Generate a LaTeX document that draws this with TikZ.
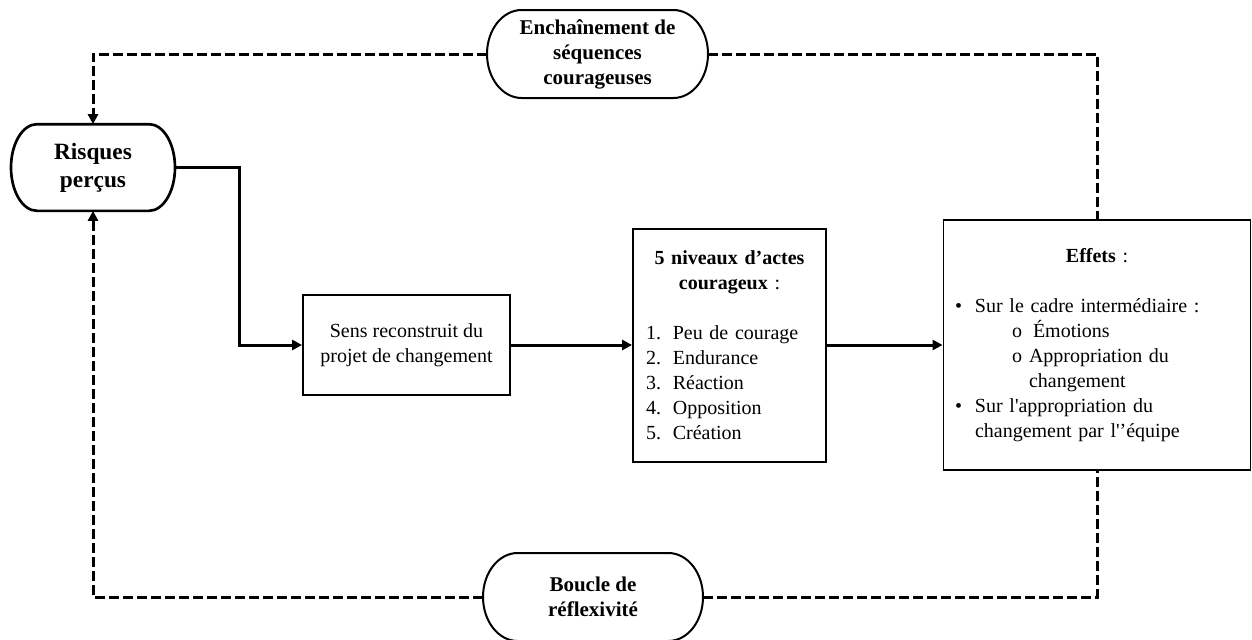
\documentclass[tikz,border=0pt]{standalone}
\usepackage{fontspec}
\setmainfont{Liberation Serif}
\usetikzlibrary{arrows.meta}

% outline of a terminal node: straight top and bottom, half-ellipse ends
\newcommand{\terminalframe}[4][1.5pt]{%
  \draw[line width=#1] ([xshift=#3]#2.north west) -- ([xshift=-#3]#2.north east)
    arc[start angle=90,end angle=-90,x radius=#3,y radius=#4]
    -- ([xshift=#3]#2.south west)
    arc[start angle=270,end angle=90,x radius=#3,y radius=#4] -- cycle;}

\begin{document}
\begin{tikzpicture}[x=0.75pt,y=-0.75pt,
    every node/.style={font=\fontsize{15}{18.75}\selectfont},
    terminal/.style={inner sep=0pt,outer sep=0pt,align=center,
      font=\fontsize{15.75}{18.75}\selectfont\bfseries},
    stepbox/.style={draw,line width=1.4pt,inner sep=0pt},
    flow/.style={line width=2.25pt,-{Triangle[length=7.5pt,width=7.5pt]}},
    loopline/.style={line width=2.25pt,dash pattern=on 7.5pt off 3pt}]
  \useasboundingbox (0,0) rectangle (1252,639);

  % the three loop nodes
  \node[terminal,minimum width=123pt,minimum height=65pt,
        font=\fontsize{17.5}{21}\selectfont\bfseries] (risk) at (93,167.5) {Risques\\perçus};
  \node[terminal,minimum width=165.75pt,minimum height=66pt] (chain) at (597.5,54)
    {Enchaînement de\\séquences\\courageuses};
  \node[terminal,minimum width=165pt,minimum height=66pt] (loop) at (593,597)
    {Boucle de\\réflexivité};
  \terminalframe[2pt]{risk}{19.5pt}{32.5pt}
  \terminalframe{chain}{26pt}{33pt}
  \terminalframe{loop}{26pt}{33pt}

  % main chain
  \node[stepbox,minimum width=155.25pt,minimum height=75pt,align=center] (sens) at (406.5,345)
    {Sens reconstruit du\\projet de changement};
  \node[stepbox,minimum width=144.75pt,minimum height=174.75pt,text width=125pt] (levels) at (729.5,345.5) {%
    {\centering\textbf{5 niveaux d’actes\\courageux} :\par}
    \vspace{18.75pt}
    \raggedright
    \makebox[20pt][l]{1.}Peu de courage\\
    \makebox[20pt][l]{2.}Endurance\\
    \makebox[20pt][l]{3.}Réaction\\
    \makebox[20pt][l]{4.}Opposition\\
    \makebox[20pt][l]{5.}Création};
  \node[stepbox,minimum width=230.25pt,minimum height=187.5pt,text width=213pt] (effects) at (1097,345) {%
    {\centering\textbf{Effets} :\par}
    \vspace{18.75pt}
    \raggedright
    \makebox[15pt][l]{\textbullet}Sur le cadre intermédiaire :\\
    \hspace*{42.75pt}\makebox[15.75pt][l]{o}Émotions\\
    \hspace*{42.75pt}\makebox[12.75pt][l]{o}Appropriation du\\
    \hspace*{55.5pt}changement\\
    \makebox[15pt][l]{\textbullet}Sur l\textquotesingle{}appropriation du\\
    \hspace*{15pt}changement par l\textquotesingle’équipe};

  \coordinate (elbow) at (239,167.5);
  \draw[flow] (risk.east) -- (elbow) |- (sens.west);
  \draw[flow] (sens.east) -- (levels.west |- sens.east);
  \draw[flow] (levels.east |- effects.west) -- (effects.west);

  % feedback loops
  \draw[loopline,-{Triangle[length=7.5pt,width=7.5pt]}] (chain.west) -| (risk.north);
  \draw[loopline] (chain.east) -| (effects.north);
  \draw[loopline,-{Triangle[length=7.5pt,width=7.5pt]}] (loop.west) -| (risk.south);
  \draw[loopline] (loop.east) -| (effects.south);
\end{tikzpicture}
\end{document}
